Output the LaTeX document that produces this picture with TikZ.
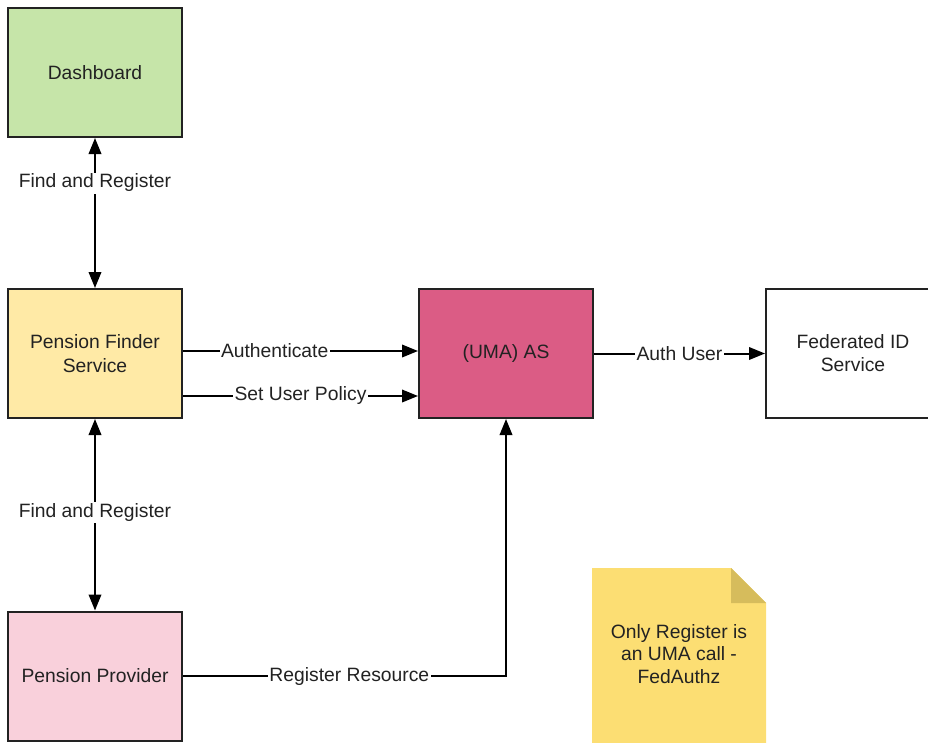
\documentclass[tikz,border=0pt]{standalone}
\usepackage{fontspec}
\setmainfont{Liberation Sans}
\usetikzlibrary{arrows.meta}
\definecolor{dashgreen}{HTML}{C6E5A9}
\definecolor{finderyellow}{HTML}{FFEAA6}
\definecolor{asred}{HTML}{DB5C85}
\definecolor{provpink}{HTML}{F9D0DB}
\definecolor{notefill}{HTML}{FCDE73}
\definecolor{notefold}{HTML}{D6BC5C}
\definecolor{inkcol}{HTML}{222222}
\tikzset{
  sysbox/.style={draw=inkcol, line width=2pt, minimum width=174pt, minimum height=129pt,
    inner sep=0pt, align=center, font=\fontsize{19.3}{23.5}\selectfont, text=inkcol},
  tip/.tip={Triangle[length=16pt,width=12.5pt]},
  link/.style={draw=black, line width=2pt, -tip},
  dlink/.style={link, tip-tip},
  lbl/.style={fill=white, inner sep=1.5pt, font=\fontsize{19.3}{23.5}\selectfont, text=inkcol}
}
\begin{document}
\begin{tikzpicture}[x=1pt,y=-1pt]
  \useasboundingbox (0,0) rectangle (928,742);
  \clip (0,0) rectangle (928,742);

  % system boxes
  \node[sysbox, fill=dashgreen]    (dash) at (95,72.5)  {Dashboard};
  \node[sysbox, fill=finderyellow] (pfs)  at (95,353.5) {Pension Finder\\Service};
  \node[sysbox, fill=provpink]     (prov) at (95,676)   {Pension Provider};
  \node[sysbox, fill=asred]        (as)   at (506,353.5) {(UMA) AS};
  \node[sysbox, fill=white]        (fed)  at (853,353) {Federated ID\\Service};

  % sticky note with folded corner
  \fill[notefill] (592,568) -- (731,568) -- (766,603) -- (766,745) -- (592,745) -- cycle;
  \fill[notefold] (731,568) -- (731,603) -- (766,603) -- cycle;
  \node[align=center, text=inkcol, font=\fontsize{19.3}{22.5}\selectfont] (note) at (679,654)
    {Only Register is\\an UMA call -\\FedAuthz};

  % connectors
  \draw[dlink] (dash.south) -- node[lbl, pos=0.3] {Find and Register} (pfs.north);
  \draw[dlink] (pfs.south) -- node[lbl, pos=0.49] {Find and Register} (prov.north);

  \coordinate (authS) at ([yshift=2.5pt]pfs.east);
  \coordinate (authE) at ([yshift=2.5pt]as.west);
  \draw[link] (authS) -- node[lbl, pos=0.39] {Authenticate} (authE);

  \coordinate (polS) at ([yshift=-42.5pt]pfs.east);
  \coordinate (polE) at ([yshift=-42.5pt]as.west);
  \draw[link] (polS) -- node[lbl, pos=0.5] {Set User Policy} (polE);

  \draw[link] (as.east) -- node[lbl, pos=0.5] {Auth User} (as.east -| fed.west);

  \draw[link] (prov.east) -- node[lbl, pos=0.515] {Register Resource} (prov.east -| as.south) -- (as.south);
\end{tikzpicture}
\end{document}
